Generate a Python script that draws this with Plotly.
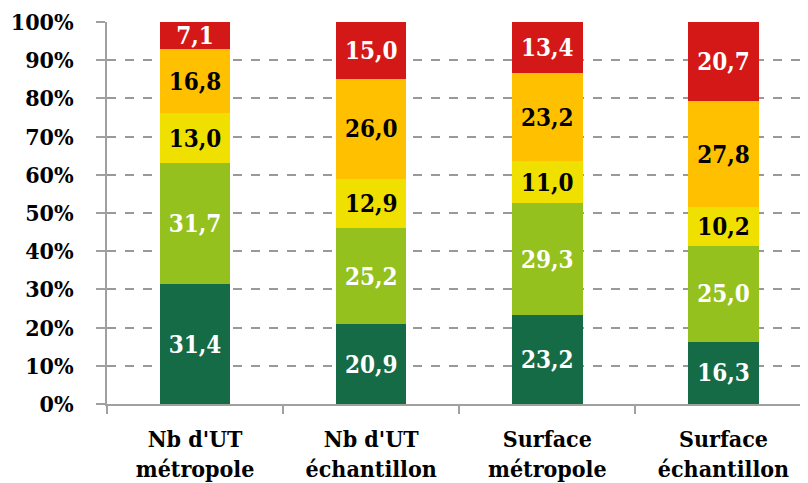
import plotly.graph_objects as go

categories = ["Nb d'UT<br>métropole", "Nb d'UT<br>échantillon", "Surface<br>métropole", "Surface<br>échantillon"]
dark_green = [31.4, 20.9, 23.2, 16.3]
light_green = [31.7, 25.2, 29.3, 25.0]
yellow = [13.0, 12.9, 11.0, 10.2]
orange = [16.8, 26.0, 23.2, 27.8]
red = [7.1, 15.0, 13.4, 20.7]
y_ticks = [0, 10, 20, 30, 40, 50, 60, 70, 80, 90, 100]
y_tick_labels = [f"{v}%" for v in y_ticks]

series = [
    ("dark green", dark_green, "#156B45", "white"),
    ("light green", light_green, "#95C11F", "white"),
    ("yellow", yellow, "#F0E000", "black"),
    ("orange", orange, "#FFC000", "black"),
    ("red", red, "#D41818", "white"),
]

FONT = "DejaVu Serif Condensed, DejaVu Serif"

fig = go.Figure()
for name, vals, col, tcol in series:
    fig.add_trace(go.Bar(
        x=categories, y=vals, name=name,
        marker=dict(color=col, line=dict(width=0)),
        width=0.4,
        text=[f"{v:.1f}".replace(".", ",") for v in vals],
        textposition="inside", insidetextanchor="middle",
        textangle=0,
        textfont=dict(family=FONT, size=24, color=tcol, weight="bold"),
        constraintext="none",
    ))

fig.update_layout(
    barmode="stack",
    width=800, height=475,
    margin=dict(l=99, r=0, t=14, b=79),
    plot_bgcolor="white", paper_bgcolor="white",
    showlegend=False,
    uniformtext=dict(mode=False),
)
fig.update_xaxes(
    range=[-0.5, 3.48],
    automargin=False,
    showline=True, linecolor="#A0A0A0", linewidth=1.5,
    ticks="outside", tickson="boundaries", ticklen=8, tickcolor="#A0A0A0", tickwidth=1.5,
    ticklabelstandoff=14,
    ticklabeloverflow="allow",
    tickfont=dict(family=FONT, size=23, color="black", weight="bold"),
    showgrid=False,
)
fig.update_yaxes(
    range=[0, 100],
    automargin=False,
    tickvals=y_ticks, ticktext=y_tick_labels,
    showline=True, linecolor="#A0A0A0", linewidth=1.5,
    ticks="outside", ticklen=9, tickcolor="#A0A0A0", tickwidth=1.5,
    ticklabelstandoff=18,
    ticklabeloverflow="allow",
    tickfont=dict(family=FONT, size=23, color="black", weight="bold"),
    showgrid=True, gridcolor="#999999", gridwidth=1.5, griddash="dash",
    zeroline=False,
)
fig.write_html("out.html")
